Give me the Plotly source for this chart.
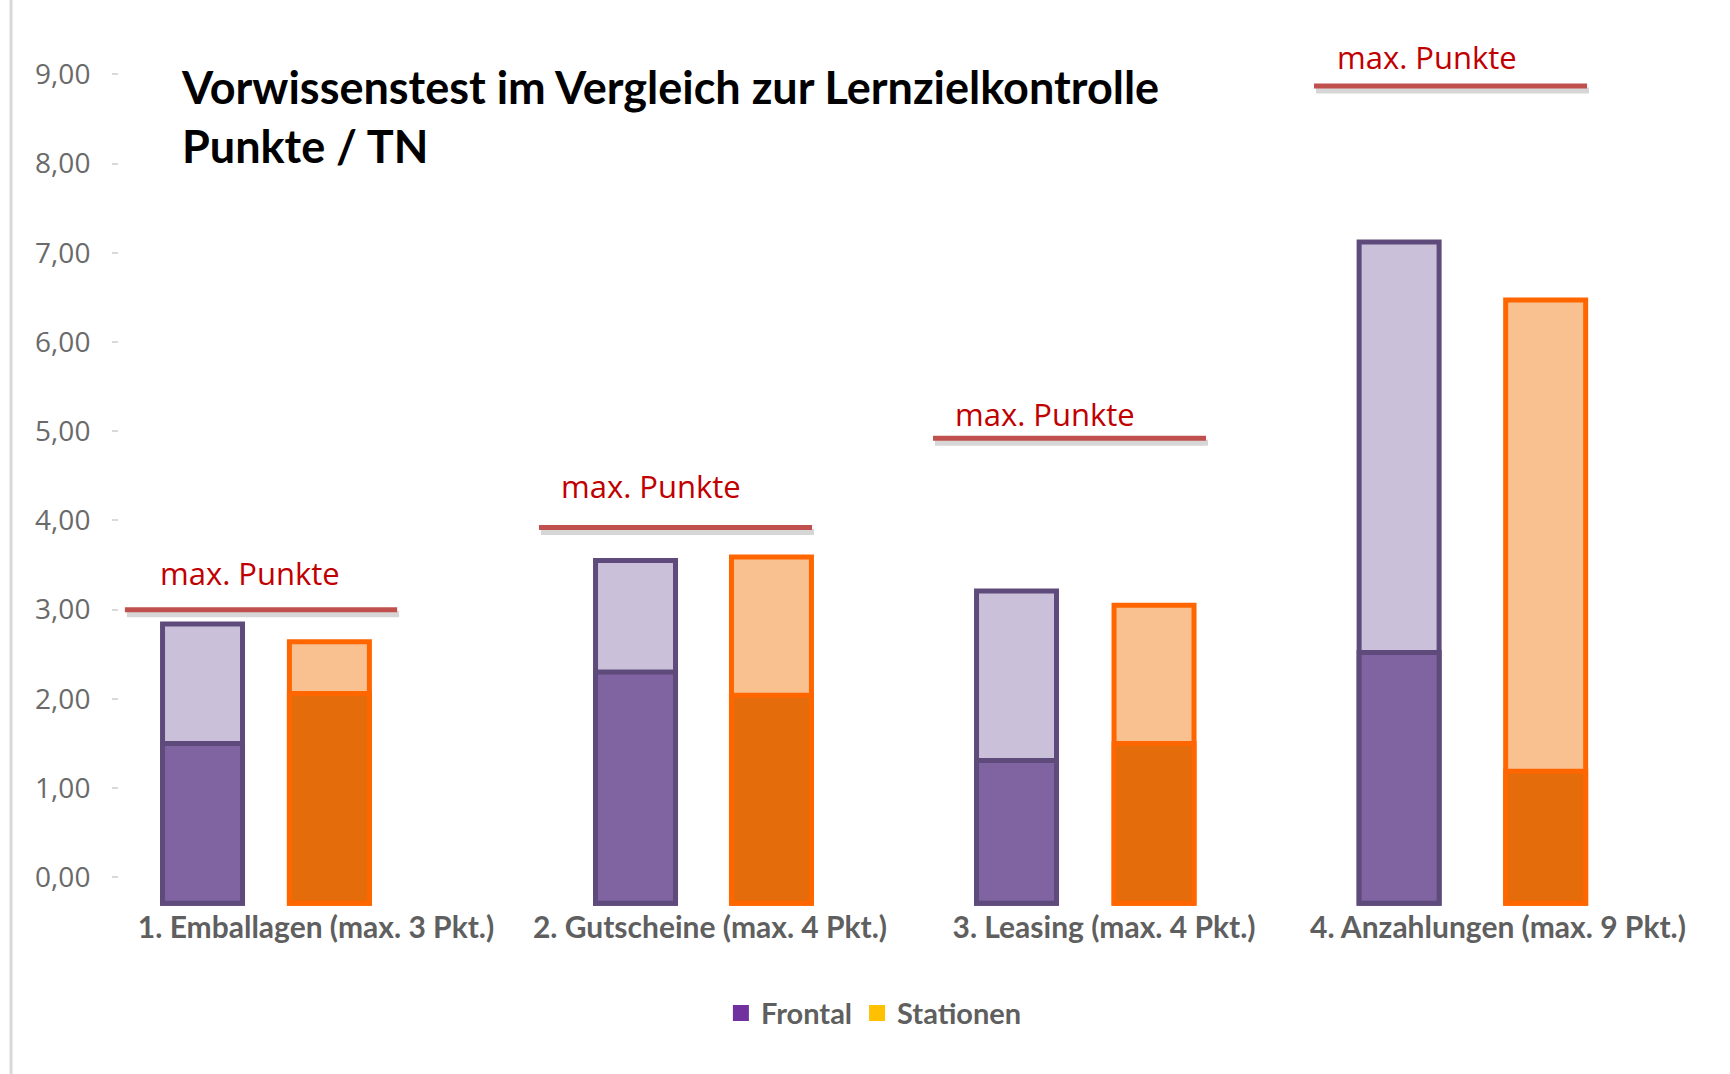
import plotly.graph_objects as go

# ---------------- data ----------------
categories = [
    "1. Emballagen (max. 3 Pkt.)",
    "2. Gutscheine (max. 4 Pkt.)",
    "3. Leasing (max. 4 Pkt.)",
    "4. Anzahlungen (max. 9 Pkt.)",
]
# Punkte / TN
frontal_lernziel = [2.84, 3.55, 3.21, 7.12]      # light purple (total)
frontal_vorwissen = [1.50, 2.30, 1.31, 2.52]     # dark purple
stationen_lernziel = [2.64, 3.59, 3.05, 6.47]    # light orange (total)
stationen_vorwissen = [2.06, 2.04, 1.50, 1.19]   # dark orange
max_line_level = [3.00, 3.92, 4.92, 8.87]        # red "max. Punkte" lines as drawn
max_label = "max. Punkte"
y_tickvals = [0, 1, 2, 3, 4, 5, 6, 7, 8, 9]
legend_names = ["Frontal", "Stationen"]

# ---------------- layout / style ----------------
W, H = 1730, 1074
BAR_BASE = -0.29                    # bars start slightly below the 0,00 tick in the picture
BAR_W = 0.203
off_frontal = [-0.288, -0.189, -0.222, -0.251]
off_stationen = [0.034, 0.156, 0.127, 0.121]
line_x0 = [-0.485, -0.434, -0.434, -0.467]
line_x1 = [0.206, 0.259, 0.259, 0.226]
label_dx = [-0.401, -0.383, -0.383, -0.414]
label_dy = [0.41, 0.47, 0.27, 0.32]

NARROW = "Lato, sans-serif"
SANS = "Open Sans, Noto Sans, sans-serif"
GRAY_TXT = "#5f5f5f"

PURPLE_EDGE = "#5E4A7B"
PURPLE_LIGHT = "#CBC0DA"
PURPLE_DARK = "#8064A2"
ORANGE_EDGE = "#FF6600"
ORANGE_LIGHT = "#F9C090"
ORANGE_DARK = "#E46C0A"

idx = list(range(len(categories)))
xf = [i + o for i, o in zip(idx, off_frontal)]
xs = [i + o for i, o in zip(idx, off_stationen)]

def bar(x, vals, fill, edge):
    return go.Bar(
        x=x, y=[v - BAR_BASE for v in vals], base=BAR_BASE, width=BAR_W,
        marker=dict(color=fill, line=dict(color=edge, width=5)),
        showlegend=False, hoverinfo="skip",
    )

fig = go.Figure()
fig.add_trace(bar(xf, frontal_lernziel, PURPLE_LIGHT, PURPLE_EDGE))
fig.add_trace(bar(xf, frontal_vorwissen, PURPLE_DARK, PURPLE_EDGE))
fig.add_trace(bar(xs, stationen_lernziel, ORANGE_LIGHT, ORANGE_EDGE))
fig.add_trace(bar(xs, stationen_vorwissen, ORANGE_DARK, ORANGE_EDGE))

# legend-only entries (colours of the legend in the picture)
for name, col in zip(legend_names, ["#7030A0", "#FFC000"]):
    fig.add_trace(go.Scatter(
        x=[None], y=[None], mode="markers", name=name,
        marker=dict(symbol="square", size=16, color=col),
    ))

shapes = []
annotations = []
for i, lvl in enumerate(max_line_level):
    # soft shadow
    shapes.append(dict(type="line", xref="x", yref="y",
                       x0=i + line_x0[i] + 0.005, x1=i + line_x1[i] + 0.005,
                       y0=lvl - 0.05, y1=lvl - 0.05,
                       line=dict(color="rgba(0,0,0,0.16)", width=6), layer="below"))
    shapes.append(dict(type="line", xref="x", yref="y",
                       x0=i + line_x0[i], x1=i + line_x1[i], y0=lvl, y1=lvl,
                       line=dict(color="#C0504D", width=5)))
    annotations.append(dict(
        x=i + label_dx[i], y=lvl + label_dy[i], xref="x", yref="y",
        text=max_label, showarrow=False, xanchor="left", yanchor="middle",
        font=dict(family=SANS, size=31, color="#C00000"),
    ))

# left border line of the picture
shapes.append(dict(type="line", xref="paper", yref="paper",
                   x0=-0.0685, x1=-0.0685, y0=-0.2, y1=1.05,
                   line=dict(color="#D9D9D9", width=3)))

fig.update_layout(
    width=W, height=H,
    margin=dict(l=119, r=35, t=3, b=161, autoexpand=False),
    paper_bgcolor="white", plot_bgcolor="white",
    barmode="overlay", separators=",.",
    title=dict(
        text="Vorwissenstest im Vergleich zur Lernzielkontrolle<br>Punkte / TN",
        x=182 / W, xanchor="left", xref="container",
        y=1 - 104 / H, yanchor="top", yref="container",
        font=dict(family=NARROW, size=45, color="black", weight="bold"),
    ),
    xaxis=dict(
        range=[-0.5, 3.5], tickvals=idx, ticktext=categories,
        showgrid=False, zeroline=False, showline=False, ticks="",
        tickangle=0, automargin=False, ticklabelstandoff=-6,
        tickfont=dict(family=NARROW, size=30, color=GRAY_TXT, weight="bold"),
    ),
    yaxis=dict(
        range=[-0.4, 9.8], tickvals=y_tickvals, tickformat=".2f",
        showgrid=False, zeroline=False, showline=False, automargin=False,
        ticks="outside", ticklen=6, tickwidth=2, tickcolor="#D9D9D9",
        ticklabelstandoff=16,
        tickfont=dict(family=SANS, size=28, color="#6a6a6a"),
    ),
    legend=dict(
        orientation="h", x=0.479, xanchor="center", y=-0.082, yanchor="top",
        font=dict(family=NARROW, size=29, color=GRAY_TXT, weight="bold"),
        itemclick=False,
    ),
    shapes=shapes, annotations=annotations,
)

fig.write_html("out.html", config={"displayModeBar": False},
               post_script="document.body.style.margin='0';")
